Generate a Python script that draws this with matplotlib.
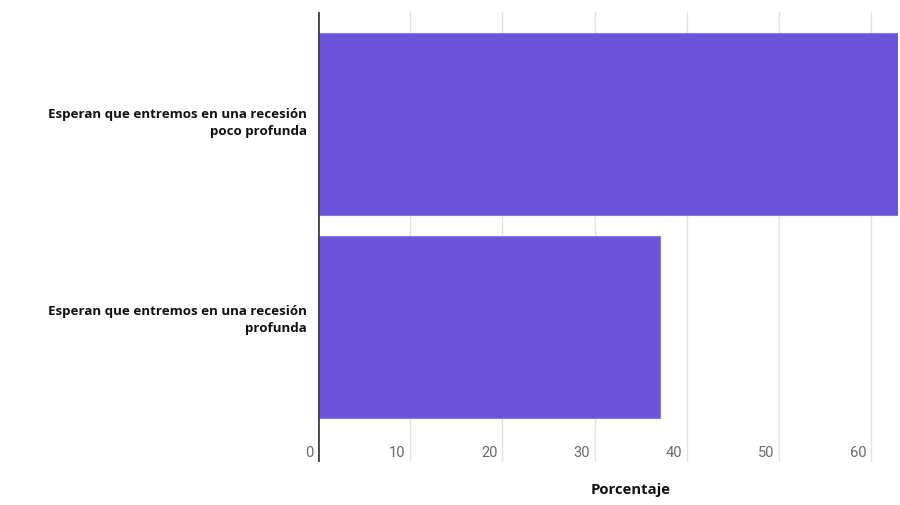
import matplotlib.pyplot as plt
from matplotlib import transforms

categories = ["Esperan que entremos en una recesión\nprofunda",
              "Esperan que entremos en una recesión\npoco profunda"]
values = [37.1, 63]
xticks = [0, 10, 20, 30, 40, 50, 60]
x_label = "Porcentaje"

bar_color = "#6b54d9"

fig = plt.figure(figsize=(9, 5.05), dpi=100)
ax = fig.add_axes([318 / 900, 43 / 505, 580 / 900, 450 / 505])

ypos = list(range(len(categories)))
ax.barh(ypos, values, height=0.897, color=bar_color, edgecolor="#8a78e6",
        linewidth=0.8, zorder=2)

ax.set_xlim(0, 62.9)
ax.set_ylim(-0.665, 1.552)

# grid lines
for t in xticks[1:]:
    ax.axvline(t, color="#e2e2e2", linewidth=1, zorder=1)
ax.axvline(0, color="#444444", linewidth=2, zorder=3)

for s in ax.spines.values():
    s.set_visible(False)
ax.set_xticks([])
ax.set_yticks([])

# x tick labels sit inside the plot, left of each grid line
trans = transforms.blended_transform_factory(ax.transData, ax.transAxes)
for t in xticks:
    ax.annotate(str(t), xy=(t, 0), xycoords=trans, xytext=(-5, 9),
                textcoords="offset pixels", ha="right", va="center",
                fontsize=10.5, color="#6a6a6a", family="Roboto")

# category labels (sit a little above the bar centres in the original)
for y, lab, dy in zip(ypos, categories, [7, 1]):
    ax.annotate(lab, xy=(0, y), xycoords="data", xytext=(-11, dy),
                textcoords="offset pixels", ha="right", va="center",
                fontsize=9.6, fontweight="bold", family="Open Sans",
                color="#111111", linespacing=1.4)

fig.text(631 / 900, 1 - 490 / 505, x_label, ha="center", va="center",
         fontsize=10.7, fontweight="bold", family="Open Sans", color="#111111")

fig.savefig("out.png", dpi=100)
